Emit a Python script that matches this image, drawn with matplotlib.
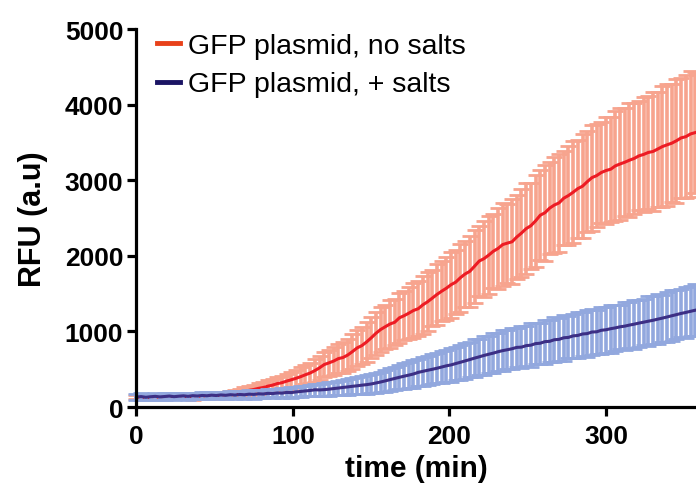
import numpy as np
from matplotlib import pyplot as plt
from matplotlib.lines import Line2D

# Data (one sample every 3 min):

step_min = 3

red_mean = [128, 134, 125, 131, 137, 129, 133, 140, 131, 138,
            135, 142, 137, 145, 140, 148, 151, 146, 155, 162,
            168, 177, 190, 203, 221, 232, 247, 258, 276, 290,
            310, 322, 343, 361, 380, 402, 427, 450, 482, 519,
            562, 584, 608, 640, 655, 688, 733, 782, 812, 860,
            915, 975, 1025, 1062, 1098, 1121, 1180, 1208, 1241, 1277,
            1300, 1352, 1392, 1440, 1489, 1532, 1571, 1618, 1652, 1711,
            1760, 1795, 1862, 1931, 1962, 2008, 2060, 2097, 2149, 2168,
            2186, 2249, 2301, 2360, 2398, 2462, 2537, 2570, 2631, 2672,
            2700, 2762, 2797, 2841, 2889, 2921, 2980, 3034, 3061, 3102,
            3128, 3146, 3190, 3215, 3238, 3265, 3288, 3322, 3341, 3367,
            3380, 3412, 3445, 3468, 3490, 3522, 3560, 3576, 3612, 3630]
red_sd = [28, 31, 25, 30, 34, 27, 29, 33, 30, 35,
          31, 36, 38, 35, 40, 37, 41, 39, 43, 42,
          44, 48, 52, 56, 60, 65, 70, 74, 79, 84,
          89, 94, 100, 106, 113, 121, 129, 138, 147, 156,
          166, 176, 186, 196, 206, 217, 228, 238, 249, 260,
          270, 284, 296, 290, 312, 305, 330, 322, 341, 362,
          365, 380, 392, 371, 409, 400, 418, 437, 425, 452,
          441, 470, 486, 462, 501, 515, 489, 530, 548, 522,
          562, 549, 583, 601, 570, 612, 598, 635, 608, 630,
          644, 621, 660, 675, 648, 690, 667, 702, 684, 671,
          712, 695, 730, 742, 716, 756, 731, 720, 765, 748,
          781, 760, 795, 808, 777, 822, 790, 812, 835, 801]

blue_mean = [132, 138, 129, 136, 141, 134, 139, 145, 137, 143,
             148, 141, 150, 146, 153, 149, 157, 152, 160, 155,
             163, 158, 166, 162, 170, 167, 175, 172, 181, 178,
             186, 184, 193, 191, 200, 206, 213, 219, 228, 226,
             230, 236, 244, 251, 259, 266, 274, 281, 289, 296,
             305, 318, 331, 346, 362, 378, 393, 408, 422, 437,
             458, 472, 486, 499, 513, 529, 545, 557, 575, 592,
             610, 628, 647, 664, 682, 698, 713, 731, 746, 758,
             771, 789, 792, 812, 818, 839, 844, 865, 869, 890,
             895, 916, 921, 941, 947, 966, 971, 992, 995, 1015,
             1022, 1036, 1047, 1061, 1070, 1084, 1096, 1110, 1122, 1135,
             1147, 1162, 1176, 1191, 1207, 1222, 1238, 1251, 1266, 1280]
blue_sd = [38, 42, 35, 40, 44, 37, 41, 39, 43, 36,
           40, 45, 38, 42, 41, 44, 40, 46, 43, 48,
           45, 50, 47, 52, 49, 55, 52, 58, 55, 61,
           58, 64, 62, 68, 66, 73, 71, 78, 77, 84,
           83, 90, 90, 98, 98, 106, 107, 115, 116, 125,
           126, 135, 137, 146, 148, 157, 159, 168, 170, 179,
           181, 190, 191, 200, 201, 210, 211, 220, 221, 230,
           236, 229, 247, 241, 256, 245, 262, 251, 268, 259,
           270, 262, 281, 266, 287, 275, 270, 291, 280, 297,
           286, 301, 279, 296, 305, 290, 310, 298, 288, 312,
           304, 318, 300, 295, 321, 309, 326, 311, 302, 330,
           318, 333, 312, 327, 340, 322, 318, 338, 329, 345]

labels = ['GFP plasmid, no salts', 'GFP plasmid, + salts']

time_red = np.arange(len(red_mean)) * step_min
time_blue = np.arange(len(blue_mean)) * step_min

plt.rcParams['font.family'] = ['Liberation Sans', 'DejaVu Sans']

fig = plt.figure(figsize=(6.96, 4.89), dpi=100)
ax = fig.add_axes([0.196, 0.1656, 0.804, 0.773])


def plotSeries(t, mean, sd, line_color, err_color):
    eb = ax.errorbar(t, mean, yerr=sd, fmt='none', ecolor=err_color, elinewidth=2.6,
                     capsize=5.5, capthick=2)
    for part in eb.lines[1] + eb.lines[2]:
        part.set_clip_on(False)
    ax.plot(t, mean, color=line_color, lw=2.2)


plotSeries(time_red, np.array(red_mean), np.array(red_sd), '#ED1C24', '#F7A48E')
plotSeries(time_blue, np.array(blue_mean), np.array(blue_sd), '#3C2F85', '#92A8DE')

ax.set_xlim(0, 357.5)
ax.set_ylim(0, 5000)
ax.set_xticks([0, 100, 200, 300])
ax.set_yticks([0, 1000, 2000, 3000, 4000, 5000])

for side in ['top', 'right']:
    ax.spines[side].set_visible(False)
for side in ['left', 'bottom']:
    ax.spines[side].set_linewidth(2.3)
    ax.spines[side].set_zorder(5)

ax.tick_params(width=2.3, length=6.5, labelsize=19)
ax.tick_params(axis='x', pad=6)
ax.tick_params(axis='y', pad=3)
for lab in ax.get_xticklabels() + ax.get_yticklabels():
    lab.set_fontweight('bold')

ax.set_xlabel('time (min)', fontsize=21.5, fontweight='bold', labelpad=4)
ax.set_ylabel('RFU (a.u)', fontsize=22, fontweight='bold', labelpad=12)

handles = [Line2D([], [], color='#E8411A', lw=3.5),
           Line2D([], [], color='#1B1464', lw=3.5)]
fig.legend(handles, labels, loc='upper left', bbox_to_anchor=(0.2256, 0.930),
           frameon=False, fontsize=20.5, handlelength=0.8, handletextpad=0.3,
           labelspacing=0.43, borderpad=0, borderaxespad=0)

plt.savefig('out.png', dpi=100)
